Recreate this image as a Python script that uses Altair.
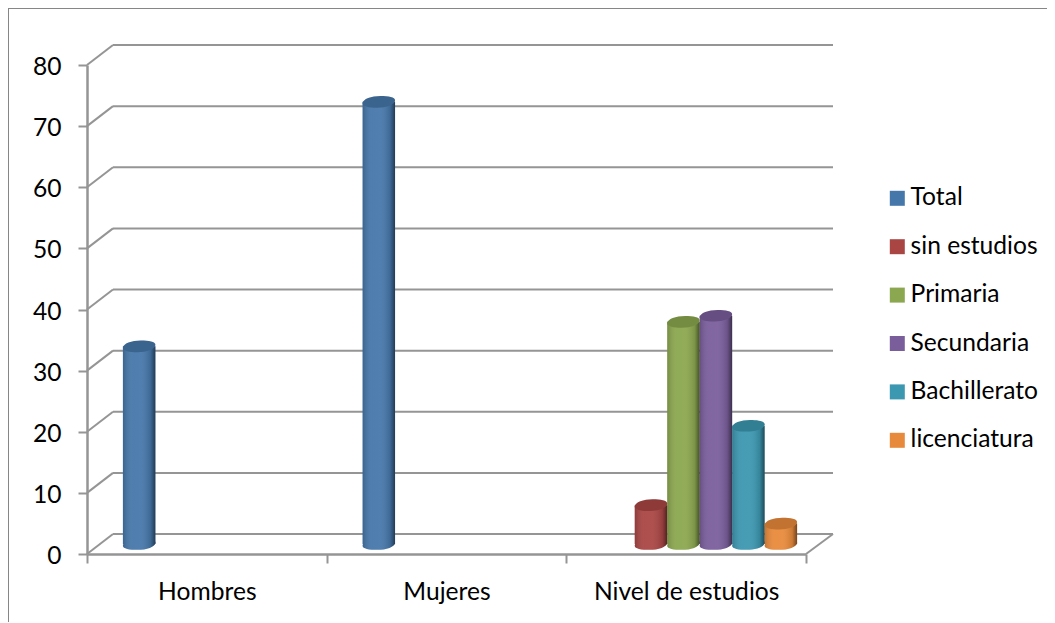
import altair as alt
import pandas as pd

groups = ["Hombres", "Mujeres", "Nivel de estudios"]
series = ["Total", "sin estudios", "Primaria", "Secundaria", "Bachillerato", "licenciatura"]
colors = ["#4677AA", "#A94644", "#8BA74F", "#7A5E9C", "#3C97B0", "#E88A3B"]
row_group = ["Hombres", "Mujeres", "Nivel de estudios", "Nivel de estudios",
             "Nivel de estudios", "Nivel de estudios", "Nivel de estudios"]
row_series = ["Total", "Total", "sin estudios", "Primaria", "Secundaria", "Bachillerato", "licenciatura"]
row_value = [33, 73, 7, 37, 38, 20, 4]
y_ticks = [0, 10, 20, 30, 40, 50, 60, 70, 80]

GRAY = "#959595"
FONT = "Lato"
FS = 24.6
W, H = 719, 489
DEPTH_X, DEPTH_Y = 27, 20
units_per_px = 80 / H
XO = 13.5
SIZE = 32.5 ** 2

df = pd.DataFrame({"group": row_group, "series": row_series, "value": row_value})
grid = pd.DataFrame({"v": y_ticks})
grid["v2"] = grid["v"] + DEPTH_Y * units_per_px
floor = pd.DataFrame({"v": [0], "v2": [DEPTH_Y * units_per_px]})

y_scale = alt.Scale(domain=[0, 80], nice=False, zero=True)
x_enc = alt.X("group:N", sort=groups, scale=alt.Scale(domain=groups, paddingInner=0, paddingOuter=0),
              axis=alt.Axis(title=None, labelAngle=0, labelFont=FONT, labelFontSize=FS, labelColor="#000",
                            labelPadding=17, labelLimit=300, tickBand="extent", tickSize=9, tickWidth=2,
                            tickColor=GRAY, domainColor=GRAY, domainWidth=2.5))
x_off = alt.XOffset("series:N", sort=series,
                    scale=alt.Scale(domain=series, paddingInner=0, paddingOuter=0.69,
                                    range=[XO, XO + W / 3]))
y_axis = alt.Axis(values=y_ticks, grid=False, title=None, labelFont=FONT, labelFontSize=FS, labelColor="#000",
                  labelPadding=17, labelOffset=2.5, tickSize=9, tickWidth=2, tickColor=GRAY,
                  domainColor=GRAY, domainWidth=2.5)
color_enc = alt.Color("series:N", sort=series, scale=alt.Scale(domain=series, range=colors),
                      legend=alt.Legend(title=None, orient="none", legendX=802 - 4, legendY=121,
                                        symbolType="square", symbolSize=225, symbolStrokeWidth=0,
                                        symbolOpacity=1, labelFont=FONT, labelFontSize=FS, labelColor="#000",
                                        rowPadding=23.4, labelOffset=1, labelLimit=200, padding=0))

cyl = alt.Gradient(gradient="linear", x1=0, x2=1, y1=0, y2=0, stops=[
    alt.GradientStop(color="rgba(0,0,0,0.16)", offset=0),
    alt.GradientStop(color="rgba(255,255,255,0.05)", offset=0.3),
    alt.GradientStop(color="rgba(255,255,255,0.06)", offset=0.55),
    alt.GradientStop(color="rgba(0,0,0,0.12)", offset=0.85),
    alt.GradientStop(color="rgba(0,0,0,0.5)", offset=1),
])
ELLIPSE = "M-1,0.1 C-1,-0.18 -0.45,-0.36 0.1,-0.36 C0.6,-0.36 1,-0.28 1,-0.1 C1,0.18 0.45,0.36 -0.1,0.36 C-0.6,0.36 -1,0.28 -1,0.1 Z"

back = alt.Chart(grid).mark_rule(stroke=GRAY, strokeWidth=2, yOffset=-DEPTH_Y).encode(
    x=alt.value(26), x2=alt.value(W + DEPTH_X), y=alt.Y("v:Q", scale=y_scale, axis=y_axis))
diag_left = alt.Chart(grid).mark_rule(stroke=GRAY, strokeWidth=2).encode(
    x=alt.value(0), x2=alt.value(26), y=alt.Y("v:Q", scale=y_scale, axis=y_axis), y2="v2:Q")
diag_right = alt.Chart(floor).mark_rule(stroke=GRAY, strokeWidth=2).encode(
    x=alt.value(W), x2=alt.value(W + DEPTH_X), y=alt.Y("v:Q", scale=y_scale, axis=y_axis), y2="v2:Q")

base = alt.Chart(df)
zero_y = alt.Y("zero:Q", scale=y_scale, axis=y_axis)
value_y = alt.Y("value:Q", scale=y_scale, axis=y_axis)
bottom = base.mark_point(shape=ELLIPSE, filled=True, size=SIZE, opacity=1, yOffset=-10).encode(
    x=x_enc, xOffset=x_off, y=zero_y, color=color_enc).transform_calculate(zero="0")
bottom_shade = base.mark_point(shape=ELLIPSE, filled=True, size=SIZE, opacity=1, fill=cyl, yOffset=-10).encode(
    x=x_enc, xOffset=x_off, y=zero_y).transform_calculate(zero="0")
body = base.mark_bar(yOffset=-6, y2Offset=-10).encode(
    x=x_enc, xOffset=x_off, y=value_y, y2=alt.Y2(datum=0), color=color_enc)
shade = base.mark_bar(yOffset=-6, y2Offset=-10, fill=cyl).encode(
    x=x_enc, xOffset=x_off, y=value_y, y2=alt.Y2(datum=0))
top = base.mark_point(shape=ELLIPSE, filled=True, size=SIZE, opacity=1, yOffset=-6).encode(
    x=x_enc, xOffset=x_off, y=value_y, color=color_enc)
top_shade = base.mark_point(shape=ELLIPSE, filled=True, size=SIZE, fill="rgba(0,0,0,0.16)", opacity=1, yOffset=-6).encode(
    x=x_enc, xOffset=x_off, y=value_y)

border_top = alt.Chart(grid.head(1)).mark_rule(stroke="#868686", strokeWidth=2, clip=False).encode(
    x=alt.value(-79), x2=alt.value(968), y=alt.value(-57))
border_left = alt.Chart(grid.head(1)).mark_rule(stroke="#868686", strokeWidth=2, clip=False).encode(
    x=alt.value(-79), y=alt.value(-57), y2=alt.value(557))

chart = alt.layer(border_top, border_left, back, diag_left, diag_right,
                  bottom, bottom_shade, body, shade, top, top_shade).properties(
    width=W, height=H,
    padding={"left": 79, "top": 57, "right": 241, "bottom": 68},
    autosize=alt.AutoSizeParams(type="none"),
    background="white",
).configure_view(stroke=None)

chart.save("out.html", embed_options={"renderer": "svg", "actions": False})
